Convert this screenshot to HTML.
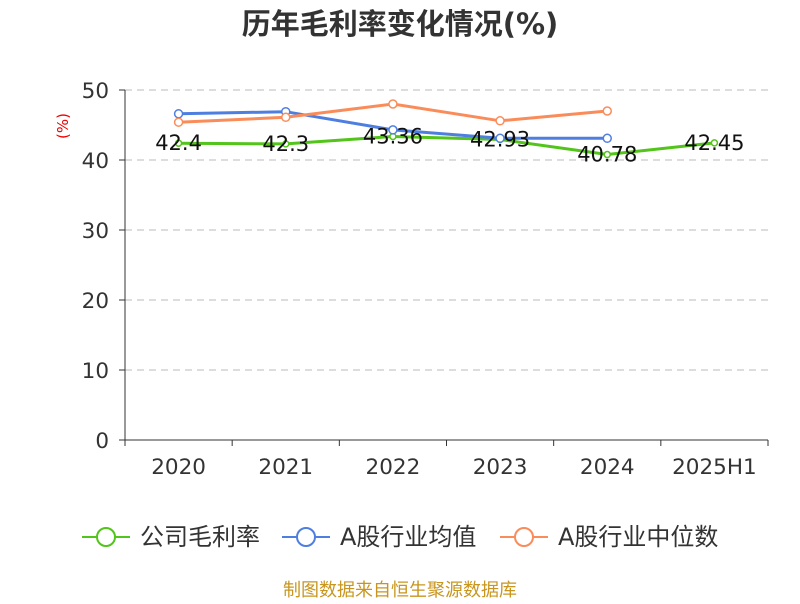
<!DOCTYPE html>
<html><head><meta charset="utf-8"><style>
body{margin:0;background:#fff;font-family:"DejaVu Sans","Noto Sans CJK SC",sans-serif}
</style></head><body>
<svg id="c" width="800" height="600" xmlns="http://www.w3.org/2000/svg" font-family="DejaVu Sans,Noto Sans CJK SC,sans-serif">
<text x="400" y="34" text-anchor="middle" font-size="29" font-weight="bold" fill="#333">历年毛利率变化情况(%)</text>
<text x="0" y="0" transform="translate(68,126) rotate(-90)" text-anchor="middle" font-size="15" fill="#e00">(%)</text>
<text x="400" y="596" text-anchor="middle" font-size="18" fill="#c8961e">制图数据来自恒生聚源数据库</text>
<g id="g"></g>
</svg>
<script>
const categories=["2020","2021","2022","2023","2024","2025H1"];
const company=[42.4,42.3,43.36,42.93,40.78,42.45];
const industryAvg=[46.6,46.9,44.3,43.1,43.1,null];
const industryMedian=[45.4,46.1,48.0,45.6,47.0,null];
const yTicks=[0,10,20,30,40,50];
const NS="http://www.w3.org/2000/svg";
const g=document.getElementById('g');
const x0=125,x1=768,yTop=90,yBot=440,yMax=50;
const bw=(x1-x0)/categories.length;
const X=i=>x0+bw*(i+0.5);
const Y=v=>yBot-(v/yMax)*(yBot-yTop);
function mk(t,a,p){const e=document.createElementNS(NS,t);for(const k in a)e.setAttribute(k,a[k]);(p||g).appendChild(e);return e;}
yTicks.forEach(v=>{
  if(v>0){const l=mk('line',{x1:x0,x2:x1,y1:Y(v),y2:Y(v),stroke:'#bbb','stroke-dasharray':'7,5'});
  
  }
  const tk=mk('line',{x1:x0-6,x2:x0,y1:Y(v),y2:Y(v),stroke:'#333'});
  
  
  const t=mk('text',{x:x0-16,y:Y(v)+8,'text-anchor':'end','font-size':21.5,fill:'#333'});t.textContent=v;
  
  
});
const ya=mk('line',{x1:x0,x2:x0,y1:yTop,y2:yBot,stroke:'#333'});


const xa=mk('line',{x1:x0,x2:x1,y1:yBot,y2:yBot,stroke:'#333'});


for(let i=0;i<=categories.length;i++){const t=mk('line',{x1:x0+bw*i,x2:x0+bw*i,y1:yBot,y2:yBot+6,stroke:'#333'});
  
  }
categories.forEach((c,i)=>{const t=mk('text',{x:X(i),y:474,'text-anchor':'middle','font-size':21.5,fill:'#333'});t.textContent=c;
  
  });
function series(data,color,name,r){
  const pts=data.map((v,i)=>v==null?null:[X(i),Y(v)]).filter(p=>p);
  const pl=mk('polyline',{points:pts.map(p=>p.join(',')).join(' '),fill:'none',stroke:color,'stroke-width':3});
  
  
  pts.forEach(p=>{const c=mk('circle',{cx:p[0],cy:p[1],r:r,fill:'#fff',stroke:color,'stroke-width':1.5});
    
    });
}
series(company,'#52c41a','company',3);
series(industryAvg,'#4e7fe0','industry-avg',4);
series(industryMedian,'#fa8c5a','industry-median',4);
company.forEach((v,i)=>{const t=mk('text',{x:X(i),y:Y(v)+7,'text-anchor':'middle','font-size':21,fill:'#111'});t.textContent=v;
  
  });
const legend=[["公司毛利率","#52c41a",82],["A股行业均值","#4e7fe0",282],["A股行业中位数","#fa8c5a",500]];
legend.forEach(([n,c,x])=>{
  const lg=mk('g',{});
  
  
  mk('line',{x1:x,x2:x+48,y1:537,y2:537,stroke:c,'stroke-width':2},lg);
  mk('circle',{cx:x+24,cy:537,r:9,fill:'#fff',stroke:c,'stroke-width':2},lg);
  const t=mk('text',{x:x+58,y:545,'font-size':24,fill:'#333'},lg);t.textContent=n;
});
</script>
</body></html>
